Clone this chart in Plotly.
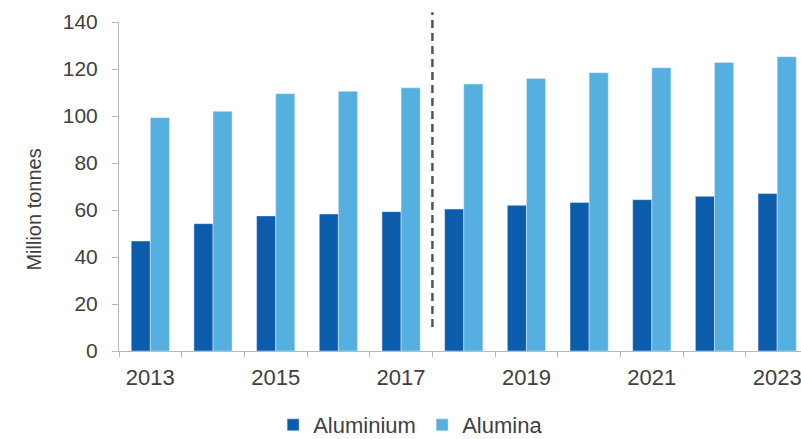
import plotly.graph_objects as go

years = list(range(2013, 2024))
aluminium = [46.8, 54.2, 57.5, 58.3, 59.3, 60.4, 62.0, 63.2, 64.4, 65.8, 67.0]
alumina = [99.3, 102.0, 109.5, 110.5, 112.0, 113.6, 116.0, 118.4, 120.5, 122.8, 125.2]
year_labels = [2013, 2015, 2017, 2019, 2021, 2023]
forecast_start = 2017.5

DARK = "#0b5cab"
LIGHT = "#56b0df"
TEXT = "#404040"
AXIS = "#b8b8b8"
FONT = "Liberation Sans, Arial, sans-serif"

fig = go.Figure()
fig.add_trace(go.Bar(x=years, y=aluminium, name="Aluminium", marker_color=DARK))
fig.add_trace(go.Bar(x=years, y=alumina, name="Alumina", marker_color=LIGHT))

# invisible trace to carry the boundary-tick axis
fig.add_trace(go.Scatter(x=[years[0]], y=[0], xaxis="x2", mode="markers",
                         marker_opacity=0, showlegend=False, hoverinfo="skip"))

xmin = years[0] - 0.5
xmax = years[0] - 0.5 + 10.88

fig.update_layout(
    width=801, height=439,
    margin=dict(l=119, r=0, t=22, b=88, autoexpand=False),
    paper_bgcolor="white", plot_bgcolor="white",
    font=dict(family=FONT, color=TEXT, size=21),
    barmode="group", bargap=0.39, bargroupgap=0,
    xaxis=dict(range=[xmin, xmax], tickvals=year_labels, ticks="",
               showline=True, linecolor=AXIS, linewidth=1, showgrid=False,
               zeroline=False, ticklabelstandoff=7, tickfont=dict(size=22),
               ticklabeloverflow="allow", automargin=False),
    xaxis2=dict(range=[xmin, xmax], overlaying="x", matches="x",
                tickvals=[y - 0.5 for y in years], ticks="outside", ticklen=5,
                tickcolor=AXIS, showticklabels=False, showgrid=False,
                zeroline=False, showline=False, side="bottom", automargin=False),
    yaxis=dict(range=[0, 140], tickvals=list(range(0, 141, 20)), ticks="outside",
               ticklen=6, tickcolor=AXIS, showline=True, linecolor=AXIS,
               linewidth=1, showgrid=False, zeroline=False,
               tickfont=dict(size=21), ticklabelstandoff=10, automargin=False),
    legend=dict(orientation="h", x=0.226, xanchor="left", y=-0.225, yanchor="middle",
                font=dict(size=22), bgcolor="rgba(0,0,0,0)",
                entrywidth=104, entrywidthmode="pixels"),
    showlegend=True,
)

fig.add_annotation(text="Million tonnes", textangle=-90, xref="paper", yref="paper",
                   x=-0.126, y=0.43, xanchor="center", yanchor="middle",
                   showarrow=False, font=dict(size=20, color=TEXT))

# divider between actuals and forecast
fig.add_shape(type="line", xref="x", yref="paper", x0=forecast_start, x1=forecast_start,
              y0=0.073, y1=1.03, line=dict(color="#555555", width=2.5, dash="8px,5px"))

fig.write_html("out.html")
